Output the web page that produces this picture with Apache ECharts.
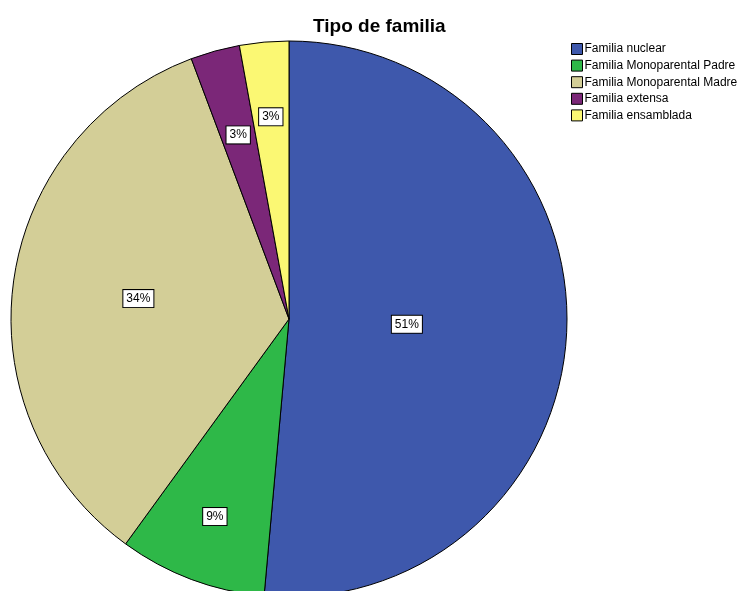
<!DOCTYPE html>
<html>
<head>
<meta charset="utf-8">
<script src="https://cdn.jsdelivr.net/npm/echarts@6/dist/echarts.min.js"></script>
<style>
  html, body { margin: 0; padding: 0; background: #fff; }
  #chart { width: 749px; height: 591px; }
</style>
</head>
<body>
<div id="chart"></div>
<script>
// tipo de familia, conteos
var categorias = ['Familia nuclear', 'Familia Monoparental Padre', 'Familia Monoparental Madre', 'Familia extensa', 'Familia ensamblada']
var conteos = [18, 3, 12, 1, 1]
var colores = ['#3e58ac', '#2eb848', '#d3ce97', '#7b2778', '#fbf873']
// distancia de cada etiqueta al centro, como la pone SPSS
var radioEtiqueta = [118, 211, 152, 191, 203]
var centro = [289, 319]

var chart = echarts.init(document.getElementById('chart'))
chart.setOption({
  animation: false,
  title: {
    text: 'Tipo de familia',
    left: 308,
    top: 12,
    textStyle: {
      fontFamily: 'Liberation Sans, Arial, sans-serif',
      fontSize: 19,
      fontWeight: 'bold',
      color: '#000'
    }
  },
  legend: {
    orient: 'vertical',
    left: 566,
    top: 38,
    itemWidth: 11,
    itemHeight: 11,
    itemGap: 4.6,
    icon: 'rect',
    data: categorias,
    textStyle: {
      fontFamily: 'Liberation Sans, Arial, sans-serif',
      fontSize: 12,
      color: '#000',
      padding: [0, 0, 0, -3]
    },
    itemStyle: {
      borderColor: '#000',
      borderWidth: 1
    }
  },
  series: [
    {
      name: 'Tipo de familia',
      type: 'pie',
      center: centro,
      radius: 278,
      startAngle: 90,
      clockwise: true,
      itemStyle: {
        borderColor: '#000',
        borderWidth: 1
      },
      label: {
        show: true,
        position: 'inside',
        formatter: function(p) {
          return Math.round(p.percent) + '%'
        },
        fontFamily: 'Liberation Sans, Arial, sans-serif',
        fontSize: 12,
        color: '#000',
        backgroundColor: '#fff',
        borderColor: '#000',
        borderWidth: 1,
        padding: [3, 3, 2, 3]
      },
      labelLayout: function(p) {
        var r = p.labelRect
        var vx = r.x + r.width / 2 - centro[0]
        var vy = r.y + r.height / 2 - centro[1]
        var len = Math.sqrt(vx * vx + vy * vy)
        var k = radioEtiqueta[p.dataIndex] / len - 1
        return { dx: vx * k, dy: vy * k }
      },
      labelLine: { show: false },
      emphasis: { disabled: true },
      data: categorias.map(function(c, i) {
        return { name: c, value: conteos[i], itemStyle: { color: colores[i] } }
      })
    }
  ]
})
</script>
</body>
</html>
